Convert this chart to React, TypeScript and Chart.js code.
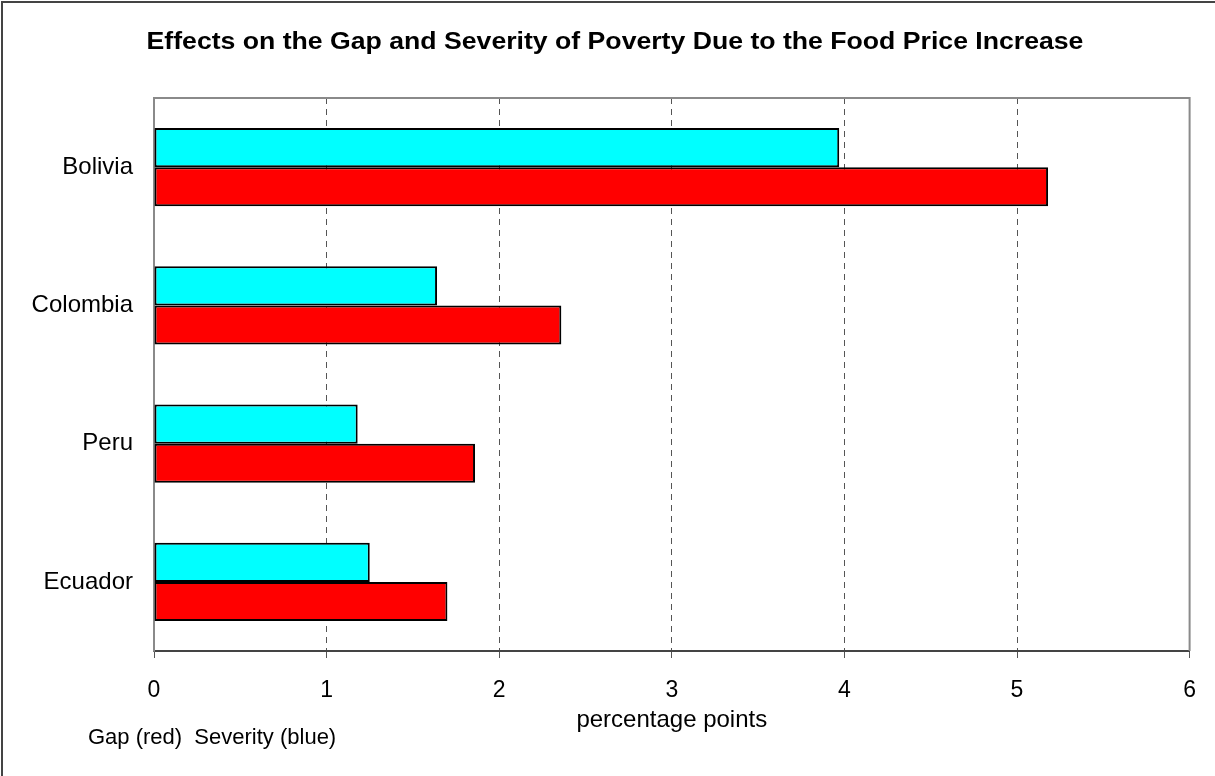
import React, { useEffect, useRef } from "react";
import { Chart, registerables } from "chart.js";

Chart.register(...registerables);

const countries = ["Bolivia", "Colombia", "Peru", "Ecuador"];
const severityBlue = [3.97, 1.64, 1.18, 1.25];
const gapRed = [5.18, 2.36, 1.86, 1.7];
const xTicks = [0, 1, 2, 3, 4, 5, 6];
const titleText = "Effects on the Gap and Severity of Poverty Due to the Food Price Increase";
const axisTitle = "percentage points";
const noteText = "Gap (red)  Severity (blue)";

const FONT = "'Liberation Sans', Arial, sans-serif";

const decorPlugin = {
  id: "decor",
  beforeDatasetsDraw(chart: any) {
    const { ctx, chartArea } = chart;
    ctx.save();
    ctx.strokeStyle = "#8a8a8a";
    ctx.lineWidth = 2;
    ctx.beginPath();
    ctx.moveTo(chartArea.left, chartArea.bottom);
    ctx.lineTo(chartArea.left, chartArea.top);
    ctx.lineTo(chartArea.right, chartArea.top);
    ctx.lineTo(chartArea.right, chartArea.bottom);
    ctx.stroke();
    ctx.restore();
  },
  afterDraw(chart: any) {
    const { ctx } = chart;
    ctx.save();
    // outer frame
    ctx.strokeStyle = "#444";
    ctx.lineWidth = 2;
    ctx.strokeRect(2, 2, chart.width + 20, chart.height + 20);
    // title (slightly widened to match the reference)
    ctx.fillStyle = "#000";
    ctx.font = `bold 23px ${FONT}`;
    ctx.textAlign = "center";
    ctx.textBaseline = "alphabetic";
    ctx.save();
    ctx.translate(615, 49);
    ctx.scale(1.158, 1);
    ctx.fillText(titleText, 0, 0);
    ctx.restore();
    // note
    ctx.font = `22px ${FONT}`;
    ctx.textAlign = "left";
    ctx.fillText(noteText, 88, 744);
    ctx.restore();
  },
};

export default function App() {
  const ref = useRef<HTMLCanvasElement | null>(null);

  useEffect(() => {
    if (!ref.current) return;
    const chart = new Chart(ref.current, {
      type: "bar",
      data: {
        labels: countries,
        datasets: [
          {
            label: "Severity",
            data: severityBlue,
            backgroundColor: "#00FFFF",
            borderColor: "#000",
            borderWidth: 2,
            borderSkipped: false,
            barPercentage: 1,
            categoryPercentage: 0.565,
          },
          {
            label: "Gap",
            data: gapRed,
            backgroundColor: "#FF0000",
            borderColor: "#000",
            borderWidth: 2,
            borderSkipped: false,
            barPercentage: 1,
            categoryPercentage: 0.565,
          },
        ],
      },
      options: {
        indexAxis: "y",
        animation: false,
        responsive: false,
        maintainAspectRatio: false,
        layout: { padding: { left: 0, top: 98, right: 23, bottom: 0 } },
        plugins: {
          legend: { display: false },
          title: { display: false },
          tooltip: { enabled: false },
        },
        scales: {
          x: {
            type: "linear",
            min: 0,
            max: 6,
            afterBuildTicks: (scale: any) => {
              scale.ticks = xTicks.map((v) => ({ value: v }));
            },
            afterFit: (scale: any) => {
              scale.height = 125;
            },
            ticks: {
              color: "#000",
              font: { family: FONT, size: 23 },
              padding: 19,
              maxRotation: 0,
            },
            grid: {
              color: (c: any) =>
                c.tick && (c.tick.value === 0 || c.tick.value === 6) ? "rgba(0,0,0,0)" : "#555",
              tickColor: "#555",
              tickBorderDash: [1, 0],
              tickLength: 7,
              lineWidth: 1,
            },
            border: { display: true, color: "#444", width: 2, dash: [6, 5] },
            title: {
              display: true,
              text: axisTitle,
              color: "#000",
              font: { family: FONT, size: 24 },
              padding: { top: 0, bottom: 41 },
            },
          },
          y: {
            afterFit: (scale: any) => {
              scale.width = 154;
            },
            ticks: {
              color: "#000",
              font: { family: FONT, size: 24 },
              padding: 21,
            },
            grid: { display: false, drawTicks: false },
            border: { display: true, color: "#777", width: 2 },
          },
        },
      },
      plugins: [decorPlugin],
    } as any);
    return () => chart.destroy();
  }, []);

  return (
    <div style={{ position: "absolute", left: 0, top: 0, width: 1215, height: 776, background: "#fff" }}>
      <canvas ref={ref} width={1215} height={776} style={{ display: "block" }} />
    </div>
  );
}
